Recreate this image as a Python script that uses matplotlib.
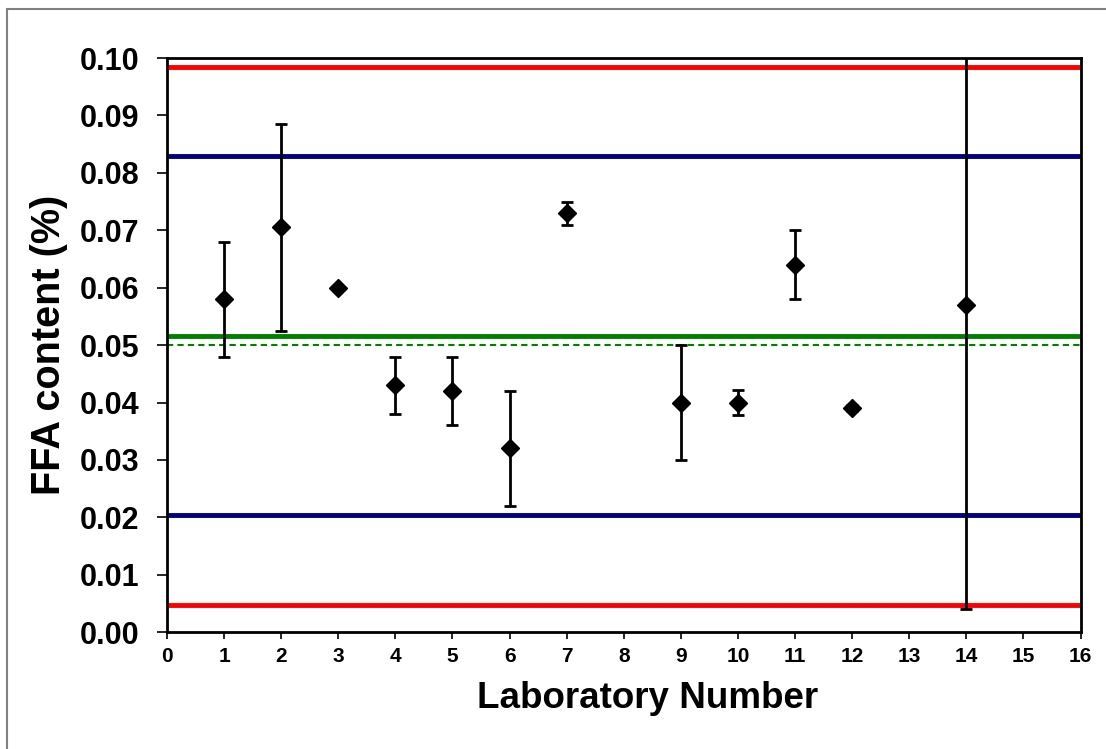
import matplotlib
matplotlib.use("Agg")
import matplotlib.pyplot as plt
from matplotlib.patches import Rectangle

plt.rcParams["font.family"] = ["Liberation Sans", "DejaVu Sans"]
plt.rcParams["font.weight"] = "bold"

# laboratory results
labs = [1, 2, 3, 4, 5, 6, 7, 9, 10, 11, 12, 14]
ffa = [0.058, 0.0705, 0.060, 0.043, 0.042, 0.032, 0.073, 0.040, 0.040, 0.064, 0.039, 0.057]
err_lo = [0.010, 0.018, 0.0, 0.005, 0.006, 0.010, 0.002, 0.010, 0.0022, 0.006, 0.0005, 0.053]
err_hi = [0.010, 0.018, 0.0, 0.005, 0.006, 0.010, 0.002, 0.010, 0.0022, 0.006, 0.0005, 0.053]

# reference lines
red_lines = [0.0984, 0.0048]
blue_lines = [0.0829, 0.0204]
green_mean = 0.0516
green_ref = 0.0500

fig = plt.figure(figsize=(11.06, 7.49), dpi=100)
fig.patch.set_facecolor("white")
fig.add_artist(Rectangle((7 / 1106, -0.05), 1.2, (749 - 9) / 749 + 0.05,
                         transform=fig.transFigure, fill=False,
                         edgecolor="#808080", linewidth=1.5))

ax = fig.add_axes([0.151, 0.156, 0.826, 0.7665])

for y in red_lines:
    ax.axhline(y, color="#ff0000", linewidth=3.5, zorder=2)
for y in blue_lines:
    ax.axhline(y, color="#000080", linewidth=3.5, zorder=2)
ax.axhline(green_mean, color="#008000", linewidth=3.5, zorder=2)
ax.axhline(green_ref, color="#008000", linewidth=1.5, linestyle=(0, (3, 2)), zorder=2)

ax.errorbar(labs, ffa, yerr=[err_lo, err_hi], fmt="D", color="black",
            markersize=9, ecolor="black", elinewidth=2, capsize=4.5,
            capthick=2, zorder=3)

ax.set_xlim(0, 16)
ax.set_ylim(0, 0.10)
ax.set_xticks(range(0, 17))
ax.set_yticks([i / 100 for i in range(0, 11)])
ax.set_yticklabels([f"{i / 100:.2f}" for i in range(0, 11)])
ax.tick_params(axis="x", direction="out", length=5, width=1.2, labelsize=15, pad=6)
ax.tick_params(axis="y", direction="out", length=7, width=1.2, labelsize=22, pad=13)
for sp in ax.spines.values():
    sp.set_linewidth(2)

ax.set_xlabel("Laboratory Number", fontsize=26.5, fontweight="bold", labelpad=12)
ax.xaxis.set_label_coords(0.526, -0.085)
ax.set_ylabel("FFA content (%)", fontsize=28.5, fontweight="bold", labelpad=8)

plt.savefig("out.png", dpi=100, facecolor="white")
